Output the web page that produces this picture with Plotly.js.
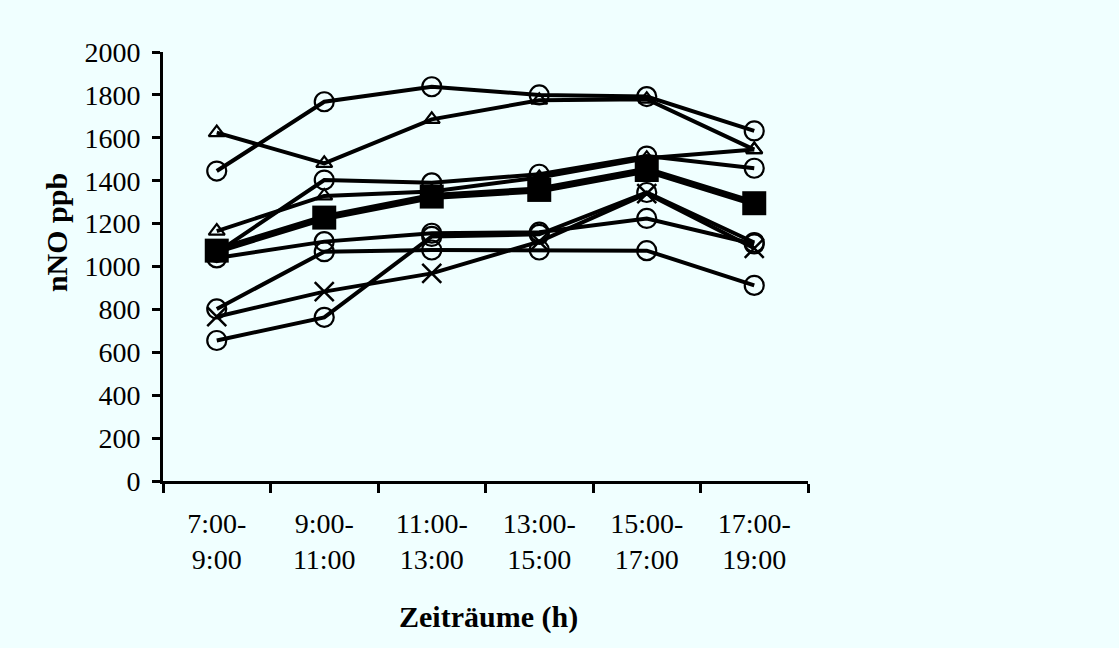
<!DOCTYPE html>
<html>
<head>
<meta charset="utf-8">
<script src="https://cdn.plot.ly/plotly-3.0.1.min.js"></script>
<style>html,body{margin:0;padding:0;background:#F0FFFF;}#chart{width:1119px;height:648px;}</style>
</head>
<body>
<div id="chart"></div>
<script>
// Categories (time windows)
const categories = ["7:00-<br>9:00", "9:00-<br>11:00", "11:00-<br>13:00", "13:00-<br>15:00", "15:00-<br>17:00", "17:00-<br>19:00"];
// Individual series (nNO ppb)
const circleA   = [1445, 1768, 1838, 1800, 1792, 1632];
const triangleA = [1624, 1481, 1686, 1775, 1780, 1545];
const circleB   = [1065, 1403, 1390, 1430, 1515, 1458];
const triangleB = [1165, 1329, 1350, 1415, 1505, 1545];
const circleC   = [1040, 1116, 1155, 1160, 1224, 1105];
const circleD   = [655, 763, 1140, 1150, 1345, 1112];
const crossA    = [766, 883, 968, 1116, 1340, 1085];
const circleE   = [802, 1069, 1077, 1077, 1074, 912];
// Mean series
const meanSeries = [1074, 1228, 1326, 1357, 1450, 1295];
// Axis titles
const xTitle = "Zeiträume (h)";
const yTitle = "nNO ppb";

function thin(y, symbol, size, lw) {
  return {
    x: categories, y: y, type: 'scatter', mode: 'lines+markers',
    line: {color: '#000', width: 4},
    marker: {symbol: symbol, size: size, color: '#000', line: {color: '#000', width: lw}},
    cliponaxis: false, showlegend: false
  };
}

const data = [
  thin(circleA, 'circle-open', 19, 2.2),
  thin(triangleA, 'triangle-up-open', 14, 2.2),
  thin(circleB, 'circle-open', 19, 2.2),
  thin(triangleB, 'triangle-up-open', 14, 2.2),
  thin(circleC, 'circle-open', 19, 2.2),
  thin(circleD, 'circle-open', 19, 2.2),
  thin(crossA, 'x-thin-open', 19, 2.5),
  thin(circleE, 'circle-open', 19, 2.2),
  {
    x: categories, y: meanSeries, type: 'scatter', mode: 'lines+markers',
    line: {color: '#000', width: 7},
    marker: {symbol: 'square', size: 24, color: '#000'},
    cliponaxis: false, showlegend: false
  }
];

const layout = {
  width: 1119, height: 648,
  paper_bgcolor: '#F0FFFF', plot_bgcolor: '#F0FFFF',
  margin: {l: 163, r: 311, t: 52, b: 167},
  font: {family: '"Liberation Serif", "Times New Roman", serif', color: '#000', size: 28},
  showlegend: false,
  xaxis: {
    type: 'category', range: [-0.5, 5.5],
    tickson: 'boundaries', ticks: 'outside', ticklen: 9, tickwidth: 3, tickcolor: '#000',
    showline: true, linecolor: '#000', linewidth: 3,
    showgrid: false, zeroline: false,
    tickfont: {size: 28},
    ticklabelstandoff: 15
  },
  yaxis: {
    range: [0, 2000], dtick: 200, tick0: 0,
    ticks: 'outside', ticklen: 8, tickwidth: 3, tickcolor: '#000',
    showline: true, linecolor: '#000', linewidth: 3,
    showgrid: false, zeroline: false,
    tickfont: {size: 28},
    ticklabelstandoff: 6
  },
  annotations: [
    {text: '<b>' + xTitle + '</b>', xref: 'paper', yref: 'paper', x: 0.504, y: -0.318,
     xanchor: 'center', yanchor: 'middle', showarrow: false, font: {size: 30}},
    {text: '<b>' + yTitle + '</b>', xref: 'paper', yref: 'paper', x: -0.166, y: 0.58,
     xanchor: 'center', yanchor: 'middle', textangle: -90, showarrow: false, font: {size: 30}}
  ]
};

Plotly.newPlot('chart', data, layout, {displayModeBar: false, staticPlot: true});
</script>
</body>
</html>
